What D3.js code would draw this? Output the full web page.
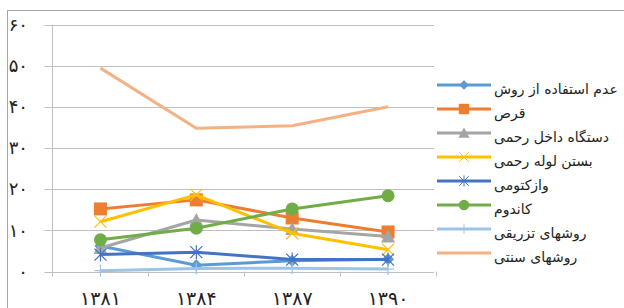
<!DOCTYPE html>
<html>
<head>
<meta charset="utf-8">
<script src="https://cdn.jsdelivr.net/npm/d3@7"></script>
<style>
  body { margin: 0; background: #fff; }
  svg { display: block; font-family: "DejaVu Sans", sans-serif; }
</style>
</head>
<body>
<svg width="624" height="308"></svg>
<script>
// categories (years) and y tick labels
var years = ["۱۳۸۱", "۱۳۸۴", "۱۳۸۷", "۱۳۹۰"];
var yTicks = [0, 10, 20, 30, 40, 50, 60];
var yTickLabels = ["۰", "۱۰", "۲۰", "۳۰", "۴۰", "۵۰", "۶۰"];

// series names (legend order)
var names = ["عدم استفاده از روش", "قرص", "دستگاه داخل رحمی", "بستن لوله رحمی",
             "وازکتومی", "کاندوم", "روشهای تزریقی", "روشهای سنتی"];

// series values
var noMethod   = [6.2, 1.5, 2.6, 3.0];
var pill       = [15.2, 17.4, 13.0, 9.6];
var iud        = [5.7, 12.5, 10.3, 8.5];
var tubal      = [12.1, 18.6, 9.3, 5.3];
var vasectomy  = [4.1, 4.7, 2.9, 2.9];
var condom     = [7.7, 10.5, 15.2, 18.4];
var injection  = [0.2, 0.7, 0.8, 0.6];
var traditional= [49.4, 34.8, 35.4, 40.0];

var colors  = ["#5b9bd5", "#ed7d31", "#a5a5a5", "#ffc000", "#4472c4", "#70ad47", "#9dc3e6", "#f4b183"];
var markers = ["diamond", "square", "triangle", "x", "star", "circle", "plus", "none"];

var seriesVals = [noMethod, pill, iud, tubal, vasectomy, condom, injection, traditional];
var series = names.map(function(n, i) {
  return { name: n, values: seriesVals[i], color: colors[i], marker: markers[i] };
});

var svg = d3.select("svg");

// outer chart border (cropped on right/bottom)
svg.append("rect")
  .attr("x", 7.5).attr("y", 10.5)
  .attr("width", 640).attr("height", 320)
  .attr("fill", "none").attr("stroke", "#a6a6a6").attr("stroke-width", 1);

var pLeft = 52.5, pRight = 436, pTop = 24.5, pBottom = 271.5;

var x = d3.scaleBand().domain(years).range([pLeft, pRight]);
var y = d3.scaleLinear().domain([0, 60]).range([pBottom, pTop]);

// gridlines
svg.append("g")
  .selectAll("line")
  .data(yTicks)
  .enter().append("line")
  .attr("x1", pLeft - 8).attr("x2", pRight - 2)
  .attr("y1", function(d) { return Math.round(y(d)) + 0.5; })
  .attr("y2", function(d) { return Math.round(y(d)) + 0.5; })
  .attr("stroke", "#bfbfbf").attr("stroke-width", 1);

// vertical axis line
svg.append("line")
  .attr("x1", pLeft).attr("x2", pLeft)
  .attr("y1", pTop).attr("y2", pBottom + 5)
  .attr("stroke", "#bfbfbf");

// category boundary ticks
var bounds = years.map(function(d) { return x(d); }).concat([pRight]);
svg.append("g").selectAll("line")
  .data(bounds.slice(1))
  .enter().append("line")
  .attr("x1", function(d) { return Math.round(d) + 0.5; })
  .attr("x2", function(d) { return Math.round(d) + 0.5; })
  .attr("y1", pBottom).attr("y2", pBottom + 5)
  .attr("stroke", "#bfbfbf");

// y tick labels
svg.append("g").selectAll("text")
  .data(yTicks)
  .enter().append("text")
  .attr("x", 28)
  .attr("y", function(d) { return y(d); })
  .attr("dy", "0.35em")
  .attr("text-anchor", "end")
  .attr("font-size", 18)
  .attr("letter-spacing", 2)
  .attr("fill", "#222")
  .text(function(d, i) { return yTickLabels[i]; });

// x tick labels
svg.append("g").selectAll("text")
  .data(years)
  .enter().append("text")
  .attr("x", function(d) { return x(d) + x.bandwidth() / 2; })
  .attr("y", 298)
  .attr("dy", "0.35em")
  .attr("text-anchor", "middle")
  .attr("font-size", 19)
  .attr("letter-spacing", 2)
  .attr("fill", "#222")
  .text(function(d) { return d; });

function drawMarker(g, type, color, cx, cy, k) {
  if (type === "none") return;
  var t = "translate(" + cx + "," + cy + ") scale(" + k + ")";
  if (type === "circle") {
    g.append("circle").attr("cx", cx).attr("cy", cy).attr("r", 6.5 * k).attr("fill", color);
  } else if (type === "square") {
    g.append("rect").attr("x", cx - 6.5 * k).attr("y", cy - 6.5 * k)
      .attr("width", 13 * k).attr("height", 13 * k).attr("fill", color);
  } else if (type === "diamond") {
    g.append("path").attr("d", "M0,-6L6,0L0,6L-6,0Z").attr("transform", t).attr("fill", color);
  } else if (type === "triangle") {
    g.append("path").attr("d", "M0,-7L7,6L-7,6Z").attr("transform", t).attr("fill", color);
  } else if (type === "x") {
    g.append("path").attr("d", "M-6,-6L6,6M-6,6L6,-6").attr("transform", t)
      .attr("stroke", color).attr("stroke-width", 1.2).attr("fill", "none");
  } else if (type === "star") {
    g.append("path").attr("d", "M-6,-6L6,6M-6,6L6,-6M0,-7L0,7").attr("transform", t)
      .attr("stroke", color).attr("stroke-width", 1.2).attr("fill", "none");
  } else if (type === "plus") {
    g.append("path").attr("d", "M-6,0L6,0M0,-6L0,6").attr("transform", t)
      .attr("stroke", color).attr("stroke-width", 1.2).attr("fill", "none");
  }
}

var line = d3.line()
  .x(function(d, i) { return x(years[i]) + x.bandwidth() / 2; })
  .y(function(d) { return y(d); });

// series lines and markers
series.forEach(function(s) {
  var g = svg.append("g");
  g.append("path")
    .attr("d", line(s.values))
    .attr("fill", "none")
    .attr("stroke", s.color)
    .attr("stroke-width", 3)
    .attr("stroke-linejoin", "round");
  s.values.forEach(function(v, i) {
    drawMarker(g, s.marker, s.color, x(years[i]) + x.bandwidth() / 2, y(v), 1);
  });
});

// legend
var legend = svg.append("g");
series.forEach(function(s, i) {
  var ly = 85 + i * 24;
  var g = legend.append("g");
  g.append("line")
    .attr("x1", 437).attr("x2", 491)
    .attr("y1", ly).attr("y2", ly)
    .attr("stroke", s.color).attr("stroke-width", 3);
  drawMarker(g, s.marker, s.color, 464, ly, 0.8);
  g.append("text")
    .attr("x", 494).attr("y", ly + 4)
    .attr("dy", "0.35em")
    .attr("font-size", 14)
    .attr("fill", "#222")
    .text(s.name);
});
</script>
</body>
</html>
